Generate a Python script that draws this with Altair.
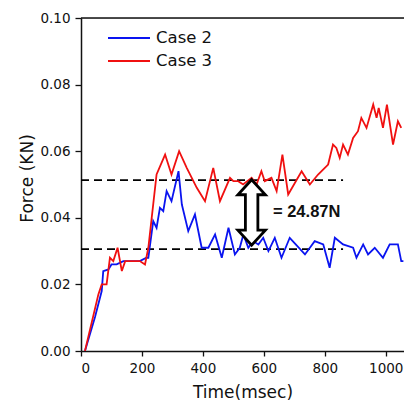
import altair as alt
import pandas as pd

# ---- data ----
case2_t = [13, 46, 68, 73, 90, 100, 117, 139, 193, 215, 221, 237, 248, 259, 270, 281, 297, 320, 331, 352,
           374, 396, 418, 440, 462, 484, 505, 521, 533, 549, 565, 582, 598, 615, 636, 658, 685, 735, 767, 795,
           816, 833, 860, 893, 904, 926, 942, 964, 991, 1013, 1040, 1051, 1058]
case2_f = [0, 0.0102, 0.018, 0.024, 0.0245, 0.026, 0.026, 0.027, 0.027, 0.028, 0.028, 0.039, 0.037, 0.043, 0.042, 0.048, 0.045, 0.054, 0.044, 0.036,
           0.041, 0.031, 0.031, 0.035, 0.028, 0.037, 0.029, 0.031, 0.035, 0.031, 0.033, 0.032, 0.034, 0.030, 0.034, 0.028, 0.034, 0.029, 0.033, 0.032,
           0.025, 0.034, 0.032, 0.031, 0.028, 0.032, 0.029, 0.031, 0.028, 0.032, 0.032, 0.027, 0.027]

case3_t = [13, 57, 68, 84, 95, 106, 120, 134, 145, 193, 210, 221, 248, 276, 297, 322, 347, 380, 407, 434,
           456, 489, 500, 516, 532, 560, 576, 592, 603, 625, 642, 661, 680, 724, 751, 778, 811, 827, 838, 849,
           860, 876, 893, 909, 920, 937, 959, 970, 977, 991, 1004, 1024, 1040, 1051]
case3_f = [0, 0.017, 0.020, 0.020, 0.028, 0.027, 0.031, 0.024, 0.027, 0.027, 0.026, 0.031, 0.053, 0.059, 0.053, 0.060, 0.055, 0.049, 0.045, 0.055,
           0.045, 0.052, 0.051, 0.051, 0.050, 0.052, 0.050, 0.054, 0.051, 0.052, 0.048, 0.059, 0.047, 0.054, 0.050, 0.053, 0.056, 0.062, 0.061, 0.058,
           0.062, 0.059, 0.064, 0.066, 0.070, 0.067, 0.074, 0.070, 0.073, 0.067, 0.074, 0.062, 0.069, 0.067]

series_names = ["Case 2", "Case 3"]
series_colors = ["#0a14f0", "#f01010"]

ref_levels = [0.0513, 0.0306]
ref_x_start = [0, 0]
ref_x_end = [860, 860]

arrow_t = [560]
arrow_mid = [0.0416]
annot_t = [630]
annot_f = [0.0417]
annot_text = ["= 24.87N"]

x_ticks = list(range(0, 1061, 100))
y_ticks = [round(i * 0.01, 2) for i in range(11)]

FONT = "DejaVu Sans"
W, H = 323, 333

# ---- frames ----
df_lines = pd.concat([
    pd.DataFrame({"t": case2_t, "f": case2_f, "series": series_names[0]}),
    pd.DataFrame({"t": case3_t, "f": case3_f, "series": series_names[1]}),
])
df_ref = pd.DataFrame({"level": ref_levels, "x0": ref_x_start, "x1": ref_x_end})
df_arrow = pd.DataFrame({"t": arrow_t, "f": arrow_mid})
df_annot = pd.DataFrame({"t": annot_t, "f": annot_f, "label": annot_text})

xscale = alt.Scale(domain=[0, 1060], nice=False, zero=False)
yscale = alt.Scale(domain=[0, 0.10], nice=False)
color_scale = alt.Scale(domain=series_names, range=series_colors)

x_axis = alt.Axis(
    title="Time(msec)", values=x_ticks, grid=False, format="d",
    labelExpr="datum.value % 200 === 0 ? datum.label : ''",
    tickSize={"condition": {"test": "datum.value % 200 === 0", "value": 5}, "value": 3},
    tickColor="#111", domainColor="#111", domainWidth=1.5, tickWidth=1.3,
    labelFont=FONT, labelFontSize=13.5, labelColor="#111", labelPadding=5,
    titleFont=FONT, titleFontSize=17, titleFontWeight="normal", titleColor="#111", titlePadding=10,
)
y_axis = alt.Axis(
    title="Force (KN)", values=y_ticks, grid=False, format=".2f",
    labelExpr="round(datum.value * 100) % 2 === 0 ? datum.label : ''",
    tickSize={"condition": {"test": "round(datum.value * 100) % 2 === 0", "value": 6}, "value": 3},
    tickColor="#111", domainColor="#111", domainWidth=1.5, tickWidth=1.3,
    labelFont=FONT, labelFontSize=13.5, labelColor="#111", labelPadding=5,
    titleFont=FONT, titleFontSize=17, titleFontWeight="normal", titleColor="#111", titlePadding=3,
    titleY=160,
)

lines = alt.Chart(df_lines).mark_line(strokeWidth=1.8, clip=True).encode(
    x=alt.X("t:Q", scale=xscale, axis=x_axis),
    y=alt.Y("f:Q", scale=yscale, axis=y_axis),
    color=alt.Color("series:N", scale=color_scale, legend=None),
    detail="series:N",
)

ref = alt.Chart(df_ref).mark_rule(color="black", strokeWidth=1.8, strokeDash=[8, 5]).encode(
    x=alt.X("x0:Q", scale=xscale),
    x2="x1:Q",
    y=alt.Y("level:Q", scale=yscale),
)

arrow_path = ("M0,-1 L0.42,-0.54 L0.19,-0.54 L0.19,0.54 L0.42,0.54 L0,1 "
              "L-0.42,0.54 L-0.19,0.54 L-0.19,-0.54 L-0.42,-0.54 Z")
arrow = alt.Chart(df_arrow).mark_point(
    shape=arrow_path, size=4300, filled=True, fill="white", stroke="black",
    strokeWidth=2.8, opacity=1, fillOpacity=1, strokeOpacity=1,
).encode(
    x=alt.X("t:Q", scale=xscale),
    y=alt.Y("f:Q", scale=yscale),
)

annot = alt.Chart(df_annot).mark_text(
    align="left", baseline="middle", font="Liberation Sans", fontSize=16.5, fontWeight="bold", color="#111",
).encode(
    x=alt.X("t:Q", scale=xscale),
    y=alt.Y("f:Q", scale=yscale),
    text="label:N",
)

# top frame line
top = alt.Chart(df_arrow).mark_rule(color="#111", strokeWidth=1.5).encode(
    x=alt.value(0), x2=alt.value(W), y=alt.value(0),
)

# legend
legend_layers = []
for i, (name, col) in enumerate(zip(series_names, series_colors)):
    yy = 20 + 23 * i
    legend_layers.append(
        alt.Chart(df_arrow).mark_rule(color=col, strokeWidth=2).encode(
            x=alt.value(27), x2=alt.value(69), y=alt.value(yy))
    )
    legend_layers.append(
        alt.Chart(df_arrow).mark_text(
            text=name, align="left", baseline="middle", font=FONT, fontSize=16.5, color="#111"
        ).encode(x=alt.value(75), y=alt.value(yy))
    )

chart = alt.layer(ref, lines, arrow, annot, top, *legend_layers).properties(
    width=W, height=H,
    autosize=alt.AutoSizeParams(type="none"),
    padding={"left": 73, "top": 10, "right": 0, "bottom": 53},
).configure_view(stroke=None).configure(background="white")

chart.save("out.html", embed_options={"renderer": "svg", "actions": False})
